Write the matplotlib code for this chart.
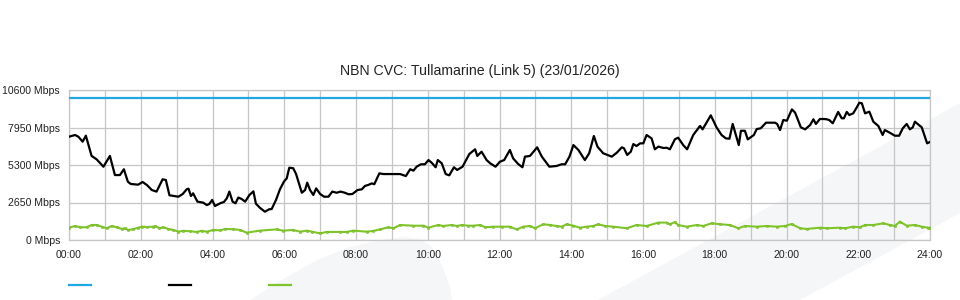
# import
import numpy as np
import matplotlib
matplotlib.use('Agg')
import matplotlib.pyplot as plt
from matplotlib.patches import Polygon
from matplotlib.lines import Line2D
from matplotlib.ticker import MultipleLocator

# chart text
title = 'NBN CVC: Tullamarine (Link 5) (23/01/2026)'
y_ticks = [0, 2650, 5300, 7950, 10600]
y_tick_labels = [f'{v} Mbps' for v in y_ticks]
x_ticks = list(range(0, 25, 2))
x_tick_labels = [f'{h:02d}:00' for h in x_ticks]

# capacity (blue), flat all day
cap_hours = [0, 24]
cap_mbps = [10000, 10000]

# black series: hour of day, Mbps
black_hours = [0.00, 0.17, 0.26, 0.38, 0.47, 0.63, 0.77, 0.96, 1.10, 1.14, 1.28, 1.42,
               1.53, 1.64, 1.72, 1.93, 2.05, 2.17, 2.31, 2.44, 2.61, 2.70, 2.80, 3.05,
               3.17, 3.28, 3.33, 3.40, 3.46, 3.58, 3.74, 3.84, 3.91, 3.99, 4.07, 4.21,
               4.32, 4.40, 4.47, 4.56, 4.64, 4.72, 4.81, 4.91, 5.03, 5.14, 5.21, 5.32,
               5.46, 5.58, 5.65, 5.77, 5.88, 5.99, 6.07, 6.14, 6.25, 6.33, 6.49, 6.58,
               6.64, 6.72, 6.81, 6.89, 7.00, 7.11, 7.23, 7.34, 7.46, 7.57, 7.69, 7.79,
               7.90, 8.04, 8.16, 8.25, 8.34, 8.44, 8.51, 8.65, 8.76, 8.95, 9.23, 9.39,
               9.51, 9.60, 9.69, 9.81, 9.92, 10.02, 10.11, 10.22, 10.28, 10.39, 10.50, 10.60,
               10.73, 10.82, 10.97, 11.16, 11.32, 11.38, 11.50, 11.64, 11.74, 11.89, 12.01, 12.13,
               12.29, 12.38, 12.52, 12.64, 12.71, 12.85, 13.05, 13.18, 13.39, 13.59, 13.73, 13.83,
               13.95, 14.06, 14.20, 14.38, 14.50, 14.63, 14.73, 14.89, 15.13, 15.27, 15.41, 15.47,
               15.56, 15.66, 15.73, 15.82, 15.92, 16.01, 16.10, 16.24, 16.33, 16.43, 16.57, 16.66,
               16.75, 16.89, 16.98, 17.12, 17.23, 17.40, 17.59, 17.66, 17.89, 18.05, 18.19, 18.31,
               18.41, 18.50, 18.59, 18.67, 18.73, 18.84, 18.92, 19.09, 19.17, 19.28, 19.43, 19.68,
               19.74, 19.82, 19.91, 20.01, 20.15, 20.24, 20.40, 20.52, 20.66, 20.75, 20.82, 20.93,
               21.04, 21.12, 21.19, 21.29, 21.44, 21.54, 21.60, 21.68, 21.75, 21.86, 21.96, 22.03,
               22.10, 22.19, 22.31, 22.42, 22.56, 22.68, 22.74, 22.88, 23.02, 23.14, 23.24, 23.35,
               23.44, 23.52, 23.58, 23.77, 23.92, 24.00]
black_mbps = [7300, 7420, 7300, 6950, 7370, 5940, 5700, 5180, 5770, 5940, 4590, 4590,
              5000, 4120, 3960, 3910, 4100, 3890, 3530, 3420, 4290, 4240, 3160, 3060,
              3250, 3580, 3630, 3110, 3300, 2710, 2640, 2470, 2540, 2830, 2400, 2590,
              2690, 2950, 3420, 2710, 2590, 3000, 2900, 2710, 3180, 3440, 2570, 2280,
              2000, 2170, 2190, 2830, 3580, 4120, 4360, 5110, 5070, 4660, 3340, 3530,
              4050, 3530, 3180, 3650, 3250, 3060, 3060, 3420, 3340, 3420, 3340, 3230,
              3250, 3530, 3580, 3820, 3890, 4000, 3940, 4710, 4660, 4660, 4660, 4520,
              5000, 4900, 5180, 5350, 5350, 5650, 5460, 5140, 5650, 5420, 4660, 4570,
              5140, 4950, 5180, 6080, 6410, 5940, 6240, 5650, 5420, 5180, 5530, 5650,
              6360, 5770, 5370, 5140, 5890, 5940, 6550, 5890, 5180, 5230, 5350, 5350,
              5890, 6710, 6360, 5650, 6130, 7350, 6600, 6130, 5890, 6170, 6550, 6480,
              6010, 6240, 6780, 6640, 6830, 6830, 7420, 7180, 6410, 6600, 6500, 6520,
              6410, 7120, 7230, 6710, 6410, 7420, 8060, 7820, 8810, 7960, 7420, 7180,
              7160, 8200, 7420, 6710, 7720, 7720, 7110, 7420, 7840, 7890, 8290, 8290,
              8200, 7770, 8480, 8430, 9230, 9000, 7960, 7820, 8130, 8530, 8200, 8550,
              8550, 8530, 8480, 8250, 9050, 8600, 8600, 9050, 8830, 8950, 9380, 9700,
              9660, 8950, 9070, 8360, 8060, 7420, 7770, 7580, 7370, 7370, 7890, 8200,
              7820, 7960, 8360, 7960, 6830, 6930]

# green series: hour of day, Mbps
green_hours = [0.00, 0.17, 0.31, 0.49, 0.63, 0.77, 0.91, 1.05, 1.19, 1.33, 1.47, 1.56,
               1.65, 1.79, 1.93, 2.04, 2.17, 2.35, 2.40, 2.52, 2.63, 2.77, 2.91, 3.05,
               3.19, 3.37, 3.56, 3.70, 3.84, 4.02, 4.21, 4.35, 4.58, 4.77, 4.95, 5.32,
               5.79, 5.97, 6.24, 6.44, 6.63, 6.77, 7.00, 7.18, 7.55, 7.74, 7.92, 8.30,
               8.48, 8.67, 8.90, 9.04, 9.23, 9.60, 9.88, 10.02, 10.29, 10.43, 10.67, 10.81,
               10.95, 11.13, 11.27, 11.46, 11.60, 11.83, 12.06, 12.29, 12.48, 12.66, 12.85, 12.99,
               13.22, 13.41, 13.59, 13.73, 13.87, 14.06, 14.24, 14.43, 14.61, 14.75, 14.94, 15.17,
               15.55, 15.82, 16.10, 16.43, 16.66, 16.75, 16.89, 16.98, 17.22, 17.50, 17.68, 17.91,
               18.15, 18.42, 18.66, 18.84, 19.17, 19.45, 19.73, 19.96, 20.14, 20.38, 20.56, 20.93,
               21.12, 21.49, 21.63, 21.86, 22.05, 22.19, 22.42, 22.70, 22.88, 23.02, 23.16, 23.35,
               23.58, 23.77, 23.95, 24.00]
green_mbps = [870, 990, 900, 900, 1060, 1060, 940, 830, 990, 900, 780, 830,
              710, 760, 870, 940, 920, 940, 990, 830, 900, 780, 710, 590,
              650, 620, 570, 650, 590, 710, 680, 780, 760, 710, 520, 660,
              750, 660, 710, 590, 660, 590, 470, 570, 570, 570, 660, 590,
              640, 750, 900, 830, 1060, 1010, 1010, 870, 1060, 990, 1060, 990,
              1060, 1010, 1010, 1060, 900, 940, 940, 940, 750, 940, 990, 830,
              1110, 1060, 990, 940, 1110, 1010, 870, 940, 990, 1110, 990, 940,
              830, 1060, 990, 1230, 1230, 1110, 1270, 1060, 940, 1060, 990, 1180,
              1110, 1060, 830, 990, 940, 990, 940, 990, 1130, 830, 780, 870,
              830, 870, 830, 940, 900, 1060, 1060, 1180, 1060, 990, 1300, 1010,
              1060, 940, 870, 870]

plt.rcParams['font.family'] = ['Liberation Sans', 'DejaVu Sans']

fig = plt.figure(figsize=(9.6, 3.0), dpi=100)
fig.patch.set_facecolor('white')

# faint watermark shapes behind the chart (pixel coords -> figure fraction)
def px(points):
    return [(x / 960, 1 - y / 300) for x, y in points]

leaf = [(250, 300), (278, 282), (317, 260), (350, 247), (380, 240), (403, 237),
        (420, 239), (432, 247), (442, 265), (450, 287), (452, 300)]
band = [(598, 300), (960, 103), (960, 213), (800, 300)]
for shape in (leaf, band):
    fig.patches.append(Polygon(px(shape), closed=True, transform=fig.transFigure,
                               facecolor='#f5f6f8', edgecolor='none', zorder=-5))

# plot area
ax = fig.add_axes([69 / 960, 0.2, 861 / 960, 0.5])
ax.set_facecolor('none')
ax.set_zorder(1)

ax.plot(cap_hours, cap_mbps, color='#1fa8e4', lw=1.6, zorder=3)
ax.plot(black_hours, black_mbps, color='black', lw=1.6, zorder=4)
ax.plot(green_hours, green_mbps, color='#7fc52a', lw=1.5, marker='o', ms=1.6,
        mfc='#8fcf3e', mec='#6fb320', mew=0.4, zorder=3)

ax.set_xlim(0, 24)
ax.set_ylim(0, 10600)
ax.set_xticks(x_ticks)
ax.set_xticklabels(x_tick_labels)
ax.xaxis.set_minor_locator(MultipleLocator(1))
ax.set_yticks(y_ticks)
ax.set_yticklabels(y_tick_labels)

ax.tick_params(which='both', length=0, labelsize=7.6, colors='#222222')
ax.tick_params(axis='x', pad=7)
ax.tick_params(axis='y', pad=6.5)

ax.grid(True, which='both', color='#c6c6c6', lw=0.9)
ax.set_axisbelow(True)
for s in ax.spines.values():
    s.set_color('#c6c6c6')
    s.set_linewidth(0.9)

fig.text(0.5, 1 - 71 / 300, title, ha='center', va='center', fontsize=10.2, color='#222222')

# legend swatches (labels are blank in the original)
for i, c in enumerate(['#1fa8e4', 'black', '#7fc52a']):
    x0 = (69 + i * 100) / 960
    fig.add_artist(Line2D([x0, x0 + 22 / 960], [1 - 285 / 300] * 2, color=c, lw=1.6,
                          transform=fig.transFigure))

fig.savefig('out.png', dpi=100)
